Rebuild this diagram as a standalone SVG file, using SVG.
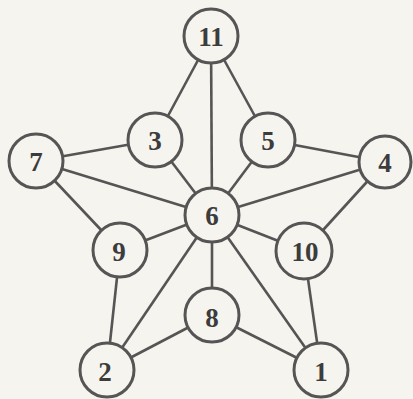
<svg xmlns="http://www.w3.org/2000/svg" width="413" height="399" viewBox="0 0 413 399">
<style>
.bg{fill:#f6f4ee}
.edge{stroke:#555;stroke-width:2.6;fill:none}
.node circle{fill:#f6f4ee;stroke:#555;stroke-width:3}
.node text{font-family:"Liberation Serif","DejaVu Serif",serif;font-weight:bold;font-size:27px;fill:#3c3c3c;text-anchor:middle;dominant-baseline:central}
</style>
<rect class="bg" width="413" height="399"/>
<g id="connectors">
<line class="edge" x1="211" y1="36" x2="155" y2="140"/>
<line class="edge" x1="211" y1="36" x2="212" y2="215"/>
<line class="edge" x1="211" y1="36" x2="268" y2="140"/>
<line class="edge" x1="36" y1="161" x2="155" y2="140"/>
<line class="edge" x1="36" y1="161" x2="212" y2="215"/>
<line class="edge" x1="36" y1="161" x2="120" y2="250"/>
<line class="edge" x1="155" y1="140" x2="212" y2="215"/>
<line class="edge" x1="268" y1="140" x2="212" y2="215"/>
<line class="edge" x1="268" y1="140" x2="385" y2="162"/>
<line class="edge" x1="385" y1="162" x2="212" y2="215"/>
<line class="edge" x1="385" y1="162" x2="304" y2="251"/>
<line class="edge" x1="120" y1="250" x2="212" y2="215"/>
<line class="edge" x1="120" y1="250" x2="107" y2="370"/>
<line class="edge" x1="304" y1="251" x2="212" y2="215"/>
<line class="edge" x1="304" y1="251" x2="321" y2="370"/>
<line class="edge" x1="212" y1="315" x2="212" y2="215"/>
<line class="edge" x1="212" y1="315" x2="107" y2="370"/>
<line class="edge" x1="212" y1="315" x2="321" y2="370"/>
<line class="edge" x1="107" y1="370" x2="212" y2="215"/>
<line class="edge" x1="321" y1="370" x2="212" y2="215"/>
</g>
<g id="n11" class="node"><circle cx="211" cy="36" r="27"/><text x="211" y="37">11</text></g>
<g id="n3" class="node"><circle cx="155" cy="140" r="27"/><text x="155" y="141">3</text></g>
<g id="n5" class="node"><circle cx="268" cy="140" r="27"/><text x="268" y="141">5</text></g>
<g id="n7" class="node"><circle cx="36" cy="161" r="27"/><text x="36" y="162">7</text></g>
<g id="n4" class="node"><circle cx="385" cy="162" r="26"/><text x="385" y="163">4</text></g>
<g id="n6" class="node"><circle cx="212" cy="215" r="27"/><text x="212" y="216">6</text></g>
<g id="n9" class="node"><circle cx="120" cy="250" r="27"/><text x="119" y="252">9</text></g>
<g id="n10" class="node"><circle cx="304" cy="251" r="28"/><text x="305" y="252">10</text></g>
<g id="n8" class="node"><circle cx="212" cy="315" r="27"/><text x="212" y="318">8</text></g>
<g id="n2" class="node"><circle cx="107" cy="370" r="27"/><text x="105" y="372">2</text></g>
<g id="n1" class="node"><circle cx="321" cy="370" r="27"/><text x="321" y="372">1</text></g>
</svg>
